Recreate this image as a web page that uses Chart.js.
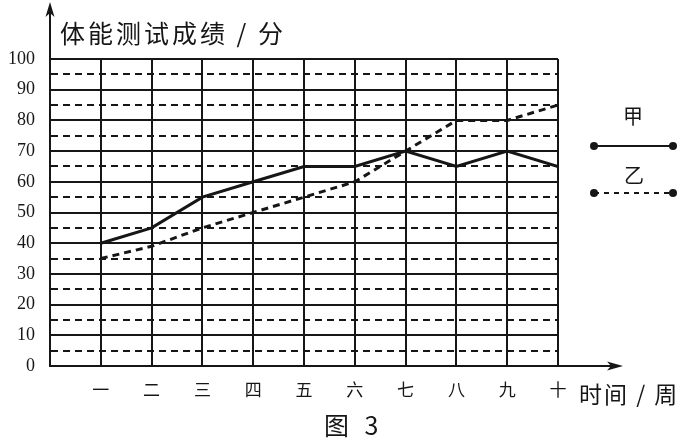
<!DOCTYPE html>
<html>
<head>
<meta charset="utf-8">
<script src="https://cdn.jsdelivr.net/npm/chart.js@4.4.1/dist/chart.umd.min.js"></script>
<style>
html, body { margin: 0; padding: 0; background: #fff; }
</style>
</head>
<body>
<canvas id="score-chart" width="698" height="447"></canvas>
<script>
// weeks and scores
const weeks = ['一', '二', '三', '四', '五', '六', '七', '八', '九', '十'];
const jiaScores = [40, 45, 55, 60, 65, 65, 70, 65, 70, 65];
const yiScores = [35, 39, 45, 50, 55, 60, 70, 80, 80, 85];
const scoreMin = 0;
const scoreMax = 100;
const scoreStep = 5;

const ink = '#161616';
const cjk = '"Noto Sans CJK SC", sans-serif';
const serif = '"Liberation Serif", "DejaVu Serif", serif';

function toPoints(values) {
    return values.map((v, i) => ({ x: i + 1, y: v }));
}

// axis arrows, titles and the little legend on the right
const decorations = {
    id: 'decorations',
    afterDraw(chart) {
        const { ctx, chartArea } = chart;
        const x0 = chartArea.left;
        const y0 = chartArea.bottom;

        ctx.save();
        ctx.strokeStyle = ink;
        ctx.fillStyle = ink;
        ctx.lineWidth = 2;

        // y axis goes up past the grid
        ctx.beginPath();
        ctx.moveTo(x0, chartArea.top);
        ctx.lineTo(x0, 10);
        ctx.stroke();
        ctx.beginPath();
        ctx.moveTo(x0, 2);
        ctx.lineTo(x0 - 4.5, 17);
        ctx.lineTo(x0, 13);
        ctx.lineTo(x0 + 4.5, 17);
        ctx.closePath();
        ctx.fill();

        // x axis goes right past the grid
        ctx.beginPath();
        ctx.moveTo(chartArea.right, y0);
        ctx.lineTo(614, y0);
        ctx.stroke();
        ctx.beginPath();
        ctx.moveTo(623, y0);
        ctx.lineTo(607, y0 - 4.5);
        ctx.lineTo(611, y0);
        ctx.lineTo(607, y0 + 4.5);
        ctx.closePath();
        ctx.fill();

        // texts
        ctx.textBaseline = 'middle';
        ctx.textAlign = 'left';
        ctx.font = '25px ' + cjk;
        ctx.letterSpacing = '3px';
        ctx.fillText('体能测试成绩 / 分', 60, 33);
        ctx.font = '23px ' + cjk;
        ctx.letterSpacing = '2px';
        ctx.fillText('时间 / 周', 579, 394);
        ctx.font = '25px ' + cjk;
        ctx.letterSpacing = '5px';
        ctx.fillText('图 3', 324, 425);
        ctx.letterSpacing = '0px';
        ctx.textAlign = 'center';

        // legend
        ctx.font = '20px ' + cjk;
        ctx.fillText('甲', 633, 116);
        ctx.fillText('乙', 634, 175);

        ctx.lineWidth = 2;
        ctx.beginPath();
        ctx.moveTo(594, 146);
        ctx.lineTo(673, 146);
        ctx.stroke();

        ctx.setLineDash([5, 5]);
        ctx.beginPath();
        ctx.moveTo(594, 193);
        ctx.lineTo(673, 193);
        ctx.stroke();
        ctx.setLineDash([]);

        [[594, 146], [673, 146], [594, 193], [673, 193]].forEach(([px, py]) => {
            ctx.beginPath();
            ctx.arc(px, py, 4, 0, Math.PI * 2);
            ctx.fill();
        });

        ctx.restore();
    }
};

const scoreChart = new Chart(document.getElementById('score-chart').getContext('2d'), {
    type: 'line',
    data: {
        datasets: [{
            label: '甲',
            data: toPoints(jiaScores),
            borderColor: ink,
            borderWidth: 3,
            pointRadius: 0,
            tension: 0,
            fill: false
        }, {
            label: '乙',
            data: toPoints(yiScores),
            borderColor: ink,
            borderWidth: 3,
            borderDash: [7, 5],
            pointRadius: 0,
            tension: 0,
            fill: false
        }]
    },
    options: {
        responsive: false,
        animation: false,
        layout: {
            padding: { top: 59, right: 140, left: 0, bottom: 0 }
        },
        plugins: {
            legend: { display: false },
            tooltip: { enabled: false }
        },
        scales: {
            x: {
                type: 'linear',
                min: 0,
                max: weeks.length,
                afterFit(scale) { scale.height = 81; },
                ticks: {
                    stepSize: 1,
                    autoSkip: false,
                    maxRotation: 0,
                    padding: 13,
                    color: ink,
                    font: { family: cjk, size: 17 },
                    callback: value => weeks[value - 1] || ''
                },
                grid: {
                    color: ink,
                    lineWidth: 2,
                    drawTicks: false
                },
                border: { display: true, color: ink, width: 2 }
            },
            y: {
                min: scoreMin,
                max: scoreMax,
                afterFit(scale) { scale.width = 50; },
                ticks: {
                    stepSize: scoreStep,
                    autoSkip: false,
                    padding: 15,
                    color: ink,
                    font: { family: serif, size: 18 },
                    callback: value => (value % 10 === 0 ? value : '')
                },
                grid: {
                    color: ink,
                    lineWidth: 2,
                    drawTicks: false
                },
                border: {
                    display: true,
                    color: ink,
                    width: 2,
                    dash: ctx => (ctx.tick && ctx.tick.value % 10 !== 0 ? [7, 5] : [])
                }
            }
        }
    },
    plugins: [decorations]
});
</script>
</body>
</html>
